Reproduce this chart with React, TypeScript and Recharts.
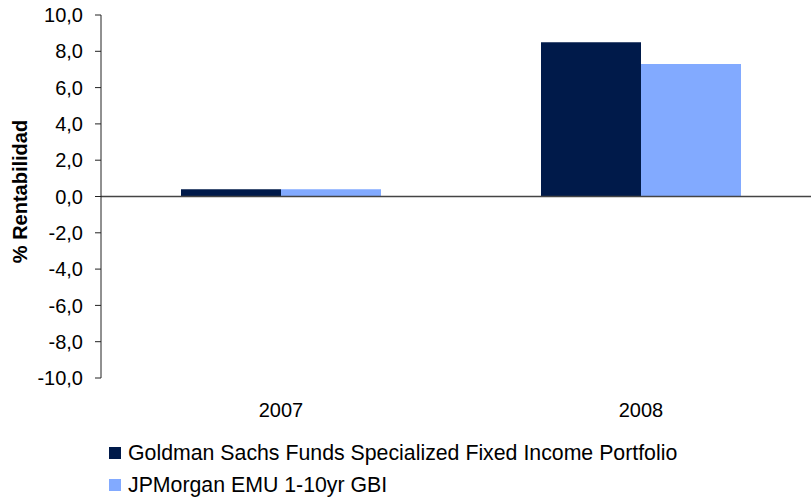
import React from 'react';
import { BarChart, Bar, XAxis, YAxis, ReferenceLine, Legend, Label } from 'recharts';

const years = ['2007', '2008'];
const goldmanValues = [0.4, 8.5];
const jpmValues = [0.4, 7.3];
const yTicks = [-10, -8, -6, -4, -2, 0, 2, 4, 6, 8, 10];

const GOLDMAN_NAME = 'Goldman Sachs Funds Specialized Fixed Income Portfolio';
const JPM_NAME = 'JPMorgan EMU 1-10yr GBI';

const DARK_BLUE = '#001A4A';
const LIGHT_BLUE = '#82AAFF';
const FONT = '"Liberation Sans", Arial, sans-serif';

const data = years.map((year, i) => ({
  year,
  goldman: goldmanValues[i],
  jpm: jpmValues[i],
}));

// comma as decimal separator, one decimal
const formatTick = (v: number) => v.toFixed(1).replace('.', ',');

const AxisTitle = (props: any) => {
  const vb = props.viewBox || { x: 0, y: 0, height: 0 };
  const cx = vb.x + 27;
  const cy = vb.y + vb.height / 2 - 5;
  return (
    <text
      x={cx}
      y={cy}
      transform={`rotate(-90, ${cx}, ${cy})`}
      textAnchor="middle"
      fontFamily={FONT}
      fontSize={20}
      fontWeight="bold"
      fill="#000"
    >
      % Rentabilidad
    </text>
  );
};

const LegendContent = (props: any) => {
  const payload = props.payload || [];
  return (
    <div style={{ fontFamily: FONT, fontSize: 21.3, color: '#000' }}>
      {payload.map((entry: any) => (
        <div key={entry.value} style={{ display: 'flex', alignItems: 'center', height: 32 }}>
          <span
            style={{
              display: 'inline-block',
              width: 12,
              height: 12,
              backgroundColor: entry.color,
              marginRight: 7,
            }}
          />
          <span style={{ whiteSpace: 'nowrap' }}>{entry.value}</span>
        </div>
      ))}
    </div>
  );
};

export default function App() {
  return (
    <div
      style={{
        position: 'absolute',
        left: 0,
        top: 0,
        width: 811,
        height: 502,
        overflow: 'hidden',
        background: '#fff',
      }}
    >
      <BarChart
        width={830}
        height={502}
        data={data}
        margin={{ top: 15, right: 9, left: 0, bottom: 84 }}
        barCategoryGap={80}
        barGap={0}
      >
        <XAxis
          dataKey="year"
          axisLine={false}
          tickLine={false}
          tickSize={0}
          tickMargin={25}
          height={40}
          tick={{ fill: '#000', fontSize: 20, fontFamily: FONT }}
        />
        <YAxis
          domain={[-10, 10]}
          ticks={yTicks}
          tickFormatter={formatTick}
          width={101}
          axisLine={{ stroke: '#222', strokeWidth: 1 }}
          tickLine={{ stroke: '#222', strokeWidth: 1 }}
          tickSize={6}
          tickMargin={12}
          interval={0}
          tick={{ fill: '#000', fontSize: 20, fontFamily: FONT }}
        >
          <Label content={<AxisTitle />} />
        </YAxis>
        <Bar dataKey="goldman" name={GOLDMAN_NAME} fill={DARK_BLUE} isAnimationActive={false} />
        <Bar dataKey="jpm" name={JPM_NAME} fill={LIGHT_BLUE} isAnimationActive={false} />
        <ReferenceLine y={0} stroke="#444" strokeWidth={1.5} />
        <Legend
          verticalAlign="middle"
          layout="vertical"
          align="center"
          content={<LegendContent />}
          wrapperStyle={{ left: 109, top: 437, width: 650 }}
        />
      </BarChart>
    </div>
  );
}
